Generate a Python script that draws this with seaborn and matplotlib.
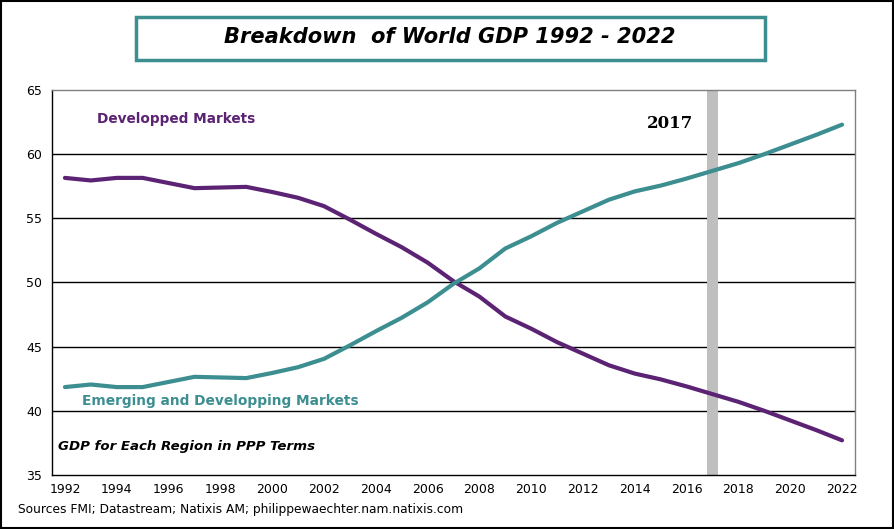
import numpy as np
import pandas as pd
import matplotlib
matplotlib.use('Agg')
import matplotlib.pyplot as plt
from matplotlib.patches import Rectangle
import seaborn as sns

# data (share of world GDP in PPP, %)
years = list(range(1992, 2023))
developed = [58.15, 57.95, 58.15, 58.15, 57.75, 57.35, 57.4, 57.45, 57.05, 56.6,
             55.95, 54.9, 53.8, 52.75, 51.55, 50.1, 48.9, 47.35, 46.4, 45.35,
             44.45, 43.55, 42.9, 42.45, 41.9, 41.3, 40.7, 40.0, 39.25, 38.5, 37.7]
emerging = [41.85, 42.05, 41.85, 41.85, 42.25, 42.65, 42.6, 42.55, 42.95, 43.4,
            44.05, 45.1, 46.2, 47.25, 48.45, 49.9, 51.1, 52.65, 53.6, 54.65,
            55.55, 56.45, 57.1, 57.55, 58.1, 58.7, 59.3, 60.0, 60.75, 61.5, 62.3]
marker_year = 2017

purple = '#5C2374'
teal = '#3C8E90'

df = pd.DataFrame({'Year': years, 'Developped Markets': developed,
                   'Emerging and Developping Markets': emerging})

sns.set_style('white')
plt.rcParams['font.family'] = ['DejaVu Sans']
plt.rcParams['text.color'] = 'black'
plt.rcParams['xtick.color'] = 'black'
plt.rcParams['ytick.color'] = 'black'

fig = plt.figure(figsize=(8.95, 5.29), dpi=100)
ax = fig.add_axes([0.0581, 0.1021, 0.8972, 0.7278])

# grey band for 2017
ax.axvspan(marker_year - 0.21, marker_year + 0.21, color='#BFBFBF', zorder=1, lw=0)

for v in [40, 45, 50, 55, 60]:
    ax.axhline(v, color='black', lw=1, zorder=0.5)

sns.lineplot(data=df, x='Year', y='Developped Markets', color=purple, lw=3.0, ax=ax, zorder=3)
sns.lineplot(data=df, x='Year', y='Emerging and Developping Markets', color=teal, lw=3.0, ax=ax, zorder=3)

ax.set_xlim(1991.5, 2022.5)
ax.set_ylim(35, 65)
ax.set_xlabel('')
ax.set_ylabel('')
ax.set_yticks(range(35, 66, 5))
ax.set_xticks(range(1992, 2023, 2))
ax.set_xticks(np.arange(1991.5, 2022, 2), minor=True)
ax.tick_params(axis='x', which='major', length=0, labelsize=9, pad=6)
ax.tick_params(axis='x', which='minor', length=4, width=1, direction='out', color='black')
ax.tick_params(axis='y', length=4, width=1, direction='out', color='black', labelsize=9, pad=3)

ax.spines['left'].set_color('black')
ax.spines['bottom'].set_color('black')
ax.spines['top'].set_color('#808080')
ax.spines['right'].set_color('#808080')
for s in ax.spines.values():
    s.set_linewidth(1)

ax.text(0.056, 0.924, 'Developped Markets', transform=ax.transAxes, color=purple,
        fontsize=9.8, fontweight='bold', va='center', ha='left')
ax.text(0.037, 0.192, 'Emerging and Developping Markets', transform=ax.transAxes, color=teal,
        fontsize=9.9, fontweight='bold', va='center', ha='left')
ax.text(0.007, 0.073, 'GDP for Each Region in PPP Terms', transform=ax.transAxes, color='black',
        fontsize=9.6, fontweight='bold', fontstyle='italic', va='center', ha='left')
ax.text(0.741, 0.914, '2017', transform=ax.transAxes, color='black', fontsize=12,
        fontweight='bold', family=['DejaVu Serif'], va='center', ha='left')

# title box
fig.patches.append(Rectangle((136 / 895, 1 - 60 / 529), (765 - 136) / 895, 43 / 529,
                             transform=fig.transFigure, fill=False, edgecolor=teal, lw=2.5))
fig.text(450 / 895, 1 - 37 / 529, 'Breakdown  of World GDP 1992 - 2022', ha='center', va='center',
         fontsize=15.1, fontweight='bold', fontstyle='italic', color='black')

fig.text(18 / 895, 1 - 509 / 529, 'Sources FMI; Datastream; Natixis AM; philippewaechter.nam.natixis.com',
         ha='left', va='center', fontsize=8.8)

# outer frame
fig.patches.append(Rectangle((0.001, 0.002), 0.997, 0.996, transform=fig.transFigure,
                             fill=False, edgecolor='black', lw=1.5))

fig.savefig('out.png', dpi=100)
